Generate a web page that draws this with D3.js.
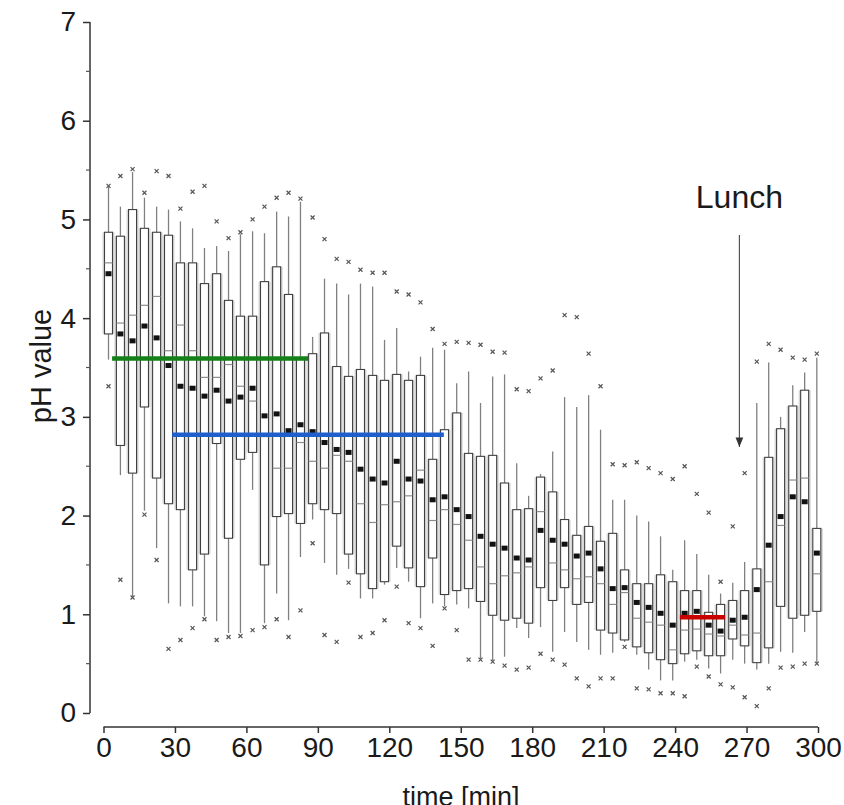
<!DOCTYPE html>
<html>
<head>
<meta charset="utf-8">
<script src="https://cdn.jsdelivr.net/npm/d3@7"></script>
<style>
  body { margin: 0; background: #fff; }
  svg { display: block; font-family: "Liberation Sans", Arial, sans-serif; }
  .narrow { font-family: "Liberation Sans Narrow", "Liberation Sans", Arial, sans-serif; }
</style>
</head>
<body>
<svg id="chart" width="844" height="805"></svg>
<script>
// time of each box [min]
const times = [2.1, 7.1, 12.2, 17.2, 22.3, 27.3, 32.3, 37.4, 42.4, 47.5,
  52.5, 57.5, 62.6, 67.6, 72.7, 77.7, 82.7, 87.8, 92.8, 97.9,
  102.9, 107.9, 113.0, 118.0, 123.1, 128.1, 133.1, 138.2, 143.2, 148.3,
  153.3, 158.3, 163.4, 168.4, 173.5, 178.5, 183.5, 188.6, 193.6, 198.7,
  203.7, 208.7, 213.8, 218.8, 223.9, 228.9, 233.9, 239.0, 244.0, 249.1,
  254.1, 259.1, 264.2, 269.2, 274.3, 279.3, 284.3, 289.4, 294.4, 299.5];

const whiskerLow = [3.58, 2.41, 1.18, 2.05, 1.67, 1.11, 1.08, 1.08, 0.98, 0.93,
  0.81, 0.81, 2.26, 0.91, 1.21, 0.94, 1.58, 1.96, 1.52, 1.40,
  1.46, 1.16, 1.16, 1.30, 1.47, 1.33, 0.96, 1.11, 1.08, 1.10,
  1.06, 0.55, 0.53, 0.57, 0.86, 0.76, 0.87, 0.62, 0.82, 0.72,
  0.64, 0.59, 0.61, 0.72, 0.59, 0.44, 0.33, 0.33, 0.52, 0.54,
  0.45, 0.40, 0.54, 0.50, 0.44, 0.50, 0.62, 0.61, 0.82, 0.50];

const q1 = [3.84, 2.71, 2.43, 3.10, 2.38, 2.12, 2.06, 1.45, 1.61, 2.73,
  1.77, 2.57, 2.64, 1.50, 1.99, 2.02, 1.92, 2.12, 2.06, 2.02,
  1.61, 1.41, 1.26, 1.33, 1.69, 1.47, 1.28, 1.57, 1.20, 1.24,
  1.26, 1.13, 0.99, 0.94, 0.96, 0.91, 1.27, 1.14, 1.27, 1.10,
  1.12, 0.84, 0.81, 0.74, 0.67, 0.61, 0.54, 0.50, 0.60, 0.63,
  0.58, 0.58, 0.75, 0.68, 0.51, 0.66, 1.08, 0.96, 0.99, 1.03];

const median = [4.56, 3.95, 4.03, 4.13, 4.22, 3.67, 3.93, 3.67, 3.40, 3.40,
  3.53, 3.31, 3.16, 2.80, 2.48, 2.48, 2.74, 2.55, 2.48, 2.61,
  2.55, 2.12, 1.93, 2.11, 2.14, 2.20, 2.46, 1.95, 2.06, 1.91,
  1.75, 1.48, 1.31, 1.39, 1.42, 1.48, 2.04, 1.52, 1.45, 1.36,
  1.38, 1.31, 1.10, 1.22, 0.96, 0.92, 0.89, 0.64, 0.84, 0.85,
  0.80, 0.78, 0.89, 0.79, 0.81, 1.33, 1.90, 2.36, 2.38, 1.41];

const q3 = [4.87, 4.83, 5.10, 4.91, 4.87, 4.84, 4.56, 4.56, 4.35, 4.45,
  4.18, 4.02, 4.02, 4.37, 4.52, 4.24, 3.60, 3.64, 3.85, 3.51,
  3.41, 3.48, 3.42, 3.37, 3.43, 3.37, 3.42, 2.57, 2.87, 3.04,
  2.63, 2.60, 2.61, 2.33, 2.06, 2.07, 2.39, 2.24, 1.96, 1.80,
  1.89, 1.74, 1.82, 1.45, 1.31, 1.31, 1.40, 1.33, 1.24, 1.24,
  1.02, 1.10, 1.14, 1.24, 1.46, 2.59, 2.88, 3.11, 3.27, 1.87];

const whiskerHigh = [5.33, 5.13, 5.48, 5.22, 5.13, 5.10, 4.98, 4.91, 4.71, 4.73,
  4.68, 4.85, 4.88, 4.86, 5.08, 5.03, 5.18, 3.81, 4.40, 4.35,
  4.24, 4.35, 4.32, 3.78, 3.90, 3.46, 3.61, 3.70, 3.68, 3.34,
  3.46, 3.14, 3.41, 3.43, 2.53, 2.20, 2.42, 2.65, 3.20, 3.10,
  3.22, 2.87, 2.16, 2.16, 2.00, 1.94, 1.79, 1.45, 1.75, 1.61,
  1.40, 1.21, 1.32, 1.53, 3.14, 3.55, 3.00, 3.32, 3.45, 3.60];

const mean = [4.45, 3.84, 3.77, 3.92, 3.80, 3.52, 3.31, 3.29, 3.21, 3.27,
  3.16, 3.20, 3.29, 3.01, 3.03, 2.86, 2.92, 2.85, 2.74, 2.67,
  2.64, 2.47, 2.37, 2.33, 2.55, 2.37, 2.35, 2.16, 2.19, 2.06,
  1.99, 1.79, 1.71, 1.67, 1.57, 1.55, 1.85, 1.75, 1.71, 1.59,
  1.62, 1.46, 1.26, 1.27, 1.12, 1.07, 1.01, 0.89, 1.01, 1.03,
  0.89, 0.83, 0.94, 0.97, 1.25, 1.70, 1.99, 2.19, 2.14, 1.62];

const outlierHigh = [5.34, 5.44, 5.51, 5.27, 5.49, 5.44, 5.11, 5.28, 5.34, 4.98,
  4.81, 4.87, 5.00, 5.13, 5.22, 5.27, 5.21, 5.02, 4.80, 4.60,
  4.57, 4.49, 4.46, 4.46, 4.27, 4.24, 4.16, 3.89, 3.74, 3.76,
  3.75, 3.73, 3.66, 3.65, 3.28, 3.26, 3.39, 3.47, 4.03, 4.01,
  3.64, 3.31, 2.52, 2.51, 2.54, 2.48, 2.43, 2.37, 2.50, 2.22,
  2.03, 1.33, 1.89, 2.43, 3.56, 3.74, 3.68, 3.60, 3.58, 3.64];

const outlierLow = [3.31, 1.35, 1.17, 2.01, 1.55, 0.65, 0.74, 0.86, 0.95, 0.74,
  0.77, 0.78, 0.84, 0.87, 0.95, 0.77, 1.04, 1.72, 0.79, 0.72,
  1.32, 0.77, 0.81, 0.94, 1.28, 0.91, 0.86, 0.68, 1.06, 0.84,
  0.54, 0.54, 0.52, 0.48, 0.44, 0.46, 0.60, 0.54, 0.49, 0.35,
  0.27, 0.35, 0.35, 0.67, 0.25, 0.24, 0.20, 0.20, 0.17, 0.47,
  0.37, 0.29, 0.26, 0.16, 0.07, 0.25, 0.46, 0.47, 0.50, 0.50];

// highlighted periods: [start, end, pH]
const greenBar = [3.6, 85.9, 3.59];
const blueBar = [28.8, 142.9, 2.82];
const redBar = [242, 261, 0.97];

const xTicks = [0, 30, 60, 90, 120, 150, 180, 210, 240, 270, 300];
const yTicks = [0, 1, 2, 3, 4, 5, 6, 7];
const yMinor = [0.5, 1.5, 2.5, 3.5, 4.5, 5.5, 6.5];
const lunchTime = 267;

const svg = d3.select("#chart");

const x = d3.scaleLinear().domain([0, 300]).range([103.5, 818]);
const y = d3.scaleLinear().domain([0, 7]).range([713, 22]);

const boxes = times.map((t, i) => ({
  t: t, lo: whiskerLow[i], q1: q1[i], med: median[i], q3: q3[i],
  hi: whiskerHigh[i], mean: mean[i], oHi: outlierHigh[i], oLo: outlierLow[i]
}));

// grey shading behind boxes
svg.append("g")
  .selectAll("rect")
  .data(boxes).enter()
  .append("rect")
  .attr("x", d => x(d.t) - 6)
  .attr("width", 12)
  .attr("y", d => y(d.q3))
  .attr("height", d => y(d.q1) - y(d.q3))
  .attr("fill", "#d6d6d6");

const bx = svg.append("g")
  .selectAll("g")
  .data(boxes).enter()
  .append("g");

// whiskers
bx.append("line")
  .attr("x1", d => x(d.t)).attr("x2", d => x(d.t))
  .attr("y1", d => y(d.hi)).attr("y2", d => y(d.q3))
  .attr("stroke", "#808080").attr("stroke-width", 1.3);
bx.append("line")
  .attr("x1", d => x(d.t)).attr("x2", d => x(d.t))
  .attr("y1", d => y(d.q1)).attr("y2", d => y(d.lo))
  .attr("stroke", "#808080").attr("stroke-width", 1.3);

// boxes
bx.append("rect")
  .attr("x", d => x(d.t) - 4)
  .attr("width", 8)
  .attr("y", d => y(d.q3))
  .attr("height", d => y(d.q1) - y(d.q3))
  .attr("fill", "#fff")
  .attr("stroke", "#404040")
  .attr("stroke-width", 1.1);

// medians
bx.append("line")
  .attr("x1", d => x(d.t) - 4).attr("x2", d => x(d.t) + 4)
  .attr("y1", d => y(d.med)).attr("y2", d => y(d.med))
  .attr("stroke", "#8c8c8c").attr("stroke-width", 1.2);

// outliers as small crosses
function cross(sel, key) {
  sel.append("path")
    .attr("d", d => {
      const cx = x(d.t), cy = y(d[key]), r = 2;
      return "M" + (cx - r) + "," + (cy - r) + "L" + (cx + r) + "," + (cy + r) +
        "M" + (cx - r) + "," + (cy + r) + "L" + (cx + r) + "," + (cy - r);
    })
    .attr("stroke", "#555").attr("stroke-width", 1.2).attr("fill", "none");
}
cross(bx, "oHi");
cross(bx, "oLo");

// means
bx.append("rect")
  .attr("x", d => x(d.t) - 3)
  .attr("y", d => y(d.mean) - 2.5)
  .attr("width", 6).attr("height", 5)
  .attr("fill", "#111");

// coloured period lines
[[greenBar, "#14801a"], [blueBar, "#1f5fcc"], [redBar, "#c80000"]].forEach(b => {
  svg.append("line")
    .attr("x1", x(b[0][0])).attr("x2", x(b[0][1]))
    .attr("y1", y(b[0][2])).attr("y2", y(b[0][2]))
    .attr("stroke", b[1]).attr("stroke-width", 4.5);
});

// Y axis
const yAxis = svg.append("g")
  .attr("transform", "translate(90,0)")
  .call(d3.axisLeft(y).tickValues(yTicks).tickSize(7).tickPadding(7).tickFormat(d3.format("d")));
yAxis.selectAll("text").attr("class", "narrow").style("font-size", "28px").attr("fill", "#1a1a1a");
yAxis.select(".domain").attr("stroke", "#333").attr("stroke-width", 1.5).attr("d", "M0," + y(7) + "V" + y(0));
yAxis.selectAll(".tick line").attr("stroke", "#333").attr("stroke-width", 1.5);
svg.append("g").selectAll("line")
  .data(yMinor).enter()
  .append("line")
  .attr("x1", 86).attr("x2", 90)
  .attr("y1", d => y(d)).attr("y2", d => y(d))
  .attr("stroke", "#555").attr("stroke-width", 1.2);

// X axis
const xAxis = svg.append("g")
  .attr("transform", "translate(0,727)")
  .call(d3.axisBottom(x).tickValues(xTicks).tickSize(6).tickPadding(4).tickFormat(d3.format("d")));
xAxis.selectAll("text").attr("class", "narrow").style("font-size", "28px").attr("fill", "#1a1a1a");
xAxis.select(".domain").attr("stroke", "#333").attr("stroke-width", 1.5).attr("d", "M" + x(0) + ",0H" + x(300));
xAxis.selectAll(".tick line").attr("stroke", "#333").attr("stroke-width", 1.5);

// axis titles
svg.append("text")
  .attr("transform", "translate(51,366) rotate(-90)")
  .attr("text-anchor", "middle")
  .style("font-size", "29px").attr("fill", "#1a1a1a")
  .text("pH value");
svg.append("text")
  .attr("x", 461).attr("y", 806)
  .attr("text-anchor", "middle")
  .style("font-size", "27px").attr("fill", "#1a1a1a")
  .text("time [min]");

// lunch annotation
svg.append("defs").append("marker")
  .attr("id", "arrow")
  .attr("viewBox", "0 0 10 10")
  .attr("refX", 10).attr("refY", 5)
  .attr("markerWidth", 8).attr("markerHeight", 8)
  .attr("orient", "auto")
  .append("path").attr("d", "M0,1L10,5L0,9Z").attr("fill", "#333");
svg.append("line")
  .attr("x1", x(lunchTime)).attr("x2", x(lunchTime))
  .attr("y1", 235).attr("y2", 447)
  .attr("stroke", "#555").attr("stroke-width", 1.2)
  .attr("marker-end", "url(#arrow)");
svg.append("text")
  .attr("x", x(lunchTime)).attr("y", 208)
  .attr("text-anchor", "middle")
  .style("font-size", "32px").attr("fill", "#1a1a1a")
  .text("Lunch");
</script>
</body>
</html>
